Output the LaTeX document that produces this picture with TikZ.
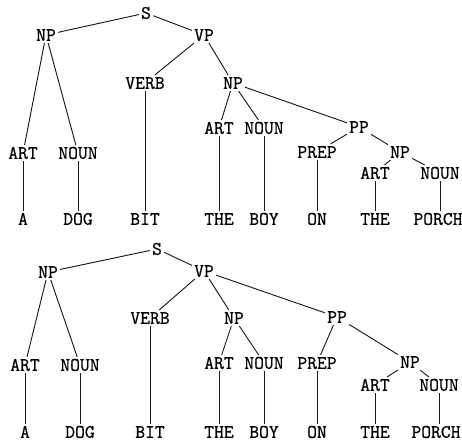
\documentclass[tikz,border=0pt]{standalone}
\usepackage{fontspec}
\newfontfamily\treefont{Latin Modern Mono}[FakeBold=0.6]
\begin{document}
\begin{tikzpicture}[x=0.75pt,y=-0.75pt,
  lbl/.style={font=\fontsize{14.3pt}{14pt}\selectfont\treefont,
    inner sep=1.5pt,text height=8.7pt,text depth=0pt},
  branch/.style={line width=0.7pt,black!90}]
\useasboundingbox (0,0) rectangle (462,441);

% ---------- first parse: PP attached to the object NP ----------
\node[lbl] (aS)  at (146,13)  {S};
\node[lbl] (aNP) at (46,35)   {NP};
\node[lbl] (aVP) at (204,35)  {VP};
\node[lbl] (aVERB) at (145,83) {VERB};
\node[lbl] (aNPo)  at (233,83) {NP};
\node[lbl] (aART1) at (23,153) {ART};
\node[lbl] (aNOUN1) at (78,153) {NOUN};
\node[lbl] (aART2) at (219,128) {ART};
\node[lbl] (aNOUN2) at (264,128) {NOUN};
\node[lbl] (aPP)   at (359,127) {PP};
\node[lbl] (aPREP) at (317,152) {PREP};
\node[lbl] (aNPp)  at (400,152) {NP};
\node[lbl] (aART3) at (375,173) {ART};
\node[lbl] (aNOUN3) at (440,173) {NOUN};
\node[lbl] (aw1) at (23,219)  {A};
\node[lbl] (aw2) at (78,219)  {DOG};
\node[lbl] (aw3) at (145,219) {BIT};
\node[lbl] (aw4) at (219,219) {THE};
\node[lbl] (aw5) at (264,219) {BOY};
\node[lbl] (aw6) at (317,219) {ON};
\node[lbl] (aw7) at (375,219) {THE};
\node[lbl] (aw8) at (438,219) {PORCH};

\draw[branch] (aS) -- (aNP);
\draw[branch] (aS) -- (aVP);
\draw[branch] (aNP) -- (aART1);
\draw[branch] (aNP) -- (aNOUN1);
\draw[branch] (aVP) -- (aVERB);
\draw[branch] (aVP) -- (aNPo);
\draw[branch] (aNPo) -- (aART2);
\draw[branch] (aNPo) -- (aNOUN2);
\draw[branch] (aNPo) -- (aPP);
\draw[branch] (aPP) -- (aPREP);
\draw[branch] (aPP) -- (aNPp);
\draw[branch] (aNPp) -- (aART3);
\draw[branch] (aNPp) -- (aNOUN3);
\draw[branch] (aART1) -- (aw1);
\draw[branch] (aNOUN1) -- (aw2);
\draw[branch] (aVERB) -- (aw3);
\draw[branch] (aART2) -- (aw4);
\draw[branch] (aNOUN2) -- (aw5);
\draw[branch] (aPREP) -- (aw6);
\draw[branch] (aART3) -- (aw7);
\draw[branch] (aNOUN3.south) -- (aNOUN3.south |- aw8.north);

% ---------- second parse: PP attached to the VP ----------
\node[lbl] (bS)  at (157,249) {S};
\node[lbl] (bNP) at (48,272)  {NP};
\node[lbl] (bVP) at (204,271) {VP};
\node[lbl] (bVERB) at (150,318) {VERB};
\node[lbl] (bNPo)  at (234,318) {NP};
\node[lbl] (bPP)   at (337,317) {PP};
\node[lbl] (bART1) at (25,365) {ART};
\node[lbl] (bNOUN1) at (80,365) {NOUN};
\node[lbl] (bART2) at (219,363) {ART};
\node[lbl] (bNOUN2) at (264,363) {NOUN};
\node[lbl] (bPREP) at (317,363) {PREP};
\node[lbl] (bNPp)  at (410,362) {NP};
\node[lbl] (bART3) at (375,385) {ART};
\node[lbl] (bNOUN3) at (439,385) {NOUN};
\node[lbl] (bw1) at (25,432)  {A};
\node[lbl] (bw2) at (80,432)  {DOG};
\node[lbl] (bw3) at (150,432) {BIT};
\node[lbl] (bw4) at (219,432) {THE};
\node[lbl] (bw5) at (264,432) {BOY};
\node[lbl] (bw6) at (317,432) {ON};
\node[lbl] (bw7) at (375,432) {THE};
\node[lbl] (bw8) at (436,432) {PORCH};

\draw[branch] (bS) -- (bNP);
\draw[branch] (bS) -- (bVP);
\draw[branch] (bNP) -- (bART1);
\draw[branch] (bNP) -- (bNOUN1);
\draw[branch] (bVP) -- (bVERB);
\draw[branch] (bVP) -- (bNPo);
\draw[branch] (bVP) -- (bPP);
\draw[branch] (bNPo) -- (bART2);
\draw[branch] (bNPo) -- (bNOUN2);
\draw[branch] (bPP) -- (bPREP);
\draw[branch] (bPP) -- (bNPp);
\draw[branch] (bNPp) -- (bART3);
\draw[branch] (bNPp) -- (bNOUN3);
\draw[branch] (bART1) -- (bw1);
\draw[branch] (bNOUN1) -- (bw2);
\draw[branch] (bVERB) -- (bw3);
\draw[branch] (bART2) -- (bw4);
\draw[branch] (bNOUN2) -- (bw5);
\draw[branch] (bPREP) -- (bw6);
\draw[branch] (bART3) -- (bw7);
\draw[branch] (bNOUN3.south) -- (bNOUN3.south |- bw8.north);
\end{tikzpicture}
\end{document}
